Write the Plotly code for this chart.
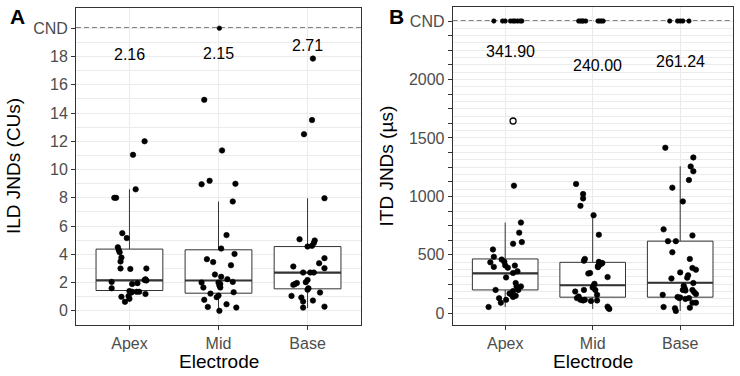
import plotly.graph_objects as go

# ---------------- data ----------------
categories = ["Apex", "Mid", "Base"]
CND_ILD = 20
CND_ITD = 2500

# ILD JNDs (CUs): values and horizontal jitter offsets
ild_apex = [11.04, 12.0, 8.6, 8.0, 8.0, 5.5, 5.15, 4.5, 4.3, 4.15, 3.77, 3.49, 3.0, 2.97, 3.0,
            2.23, 2.15, 2.18, 2.05, 1.6, 1.9, 1.96, 1.3, 1.4, 1.35, 1.35, 1.35, 1.2, 0.99, 1.05, 0.64, 0.85]
ild_apex_jit = [0.04, 0.17, 0.07, -0.17, -0.15, -0.08, -0.03, -0.13, -0.12, -0.11, -0.09, -0.10, -0.10, 0.01, 0.19,
                0.18, 0.19, 0.17, -0.20, -0.20, 0.03, 0.09, 0.02, 0.0, 0.03, 0.08, 0.11, 0.18, -0.09, -0.01, -0.05, 0.0]
ild_mid = [20, 14.93, 11.35, 8.96, 9.2, 8.99, 7.74, 5.36, 4.41, 4.03, 3.66, 3.45, 3.23, 2.57, 2.41, 2.24,
           2.05, 2.0, 1.65, 2.0, 1.9, 1.65, 1.8, 1.32, 1.22, 1.08, 0.97, 0.78, 0.47, 0.28, 0.23, 0.0]
ild_mid_jit = [0.01, -0.16, 0.04, -0.19, -0.10, 0.19, 0.16, 0.09, 0.03, 0.18, -0.13, -0.06, 0.14, -0.04, 0.03, 0.10,
               0.16, -0.19, -0.17, 0.0, 0.02, 0.02, 0.01, 0.17, -0.09, 0.0, -0.02, -0.16, 0.09, -0.12, 0.20, 0.01]
ild_base = [17.85, 13.5, 12.5, 7.97, 5.07, 4.55, 4.6, 4.8, 4.98, 3.73, 3.37, 3.02, 3.14, 2.71, 2.71, 2.71,
            2.19, 2.03, 1.9, 1.84, 1.97, 1.6, 1.5, 1.3, 1.06, 0.94, 0.66, 0.73, 0.23, 0.3]
ild_base_jit = [0.06, 0.05, -0.04, 0.19, -0.09, 0.0, 0.05, 0.07, 0.08, 0.19, 0.13, 0.19, -0.16, -0.05, 0.03, 0.07,
                0.0, -0.02, -0.14, -0.16, -0.12, 0.01, 0.0, 0.14, -0.18, -0.07, -0.05, 0.06, -0.05, 0.19]

ild_q1 = [1.44, 1.25, 1.56]
ild_median = [2.16, 2.15, 2.71]
ild_q3 = [4.37, 4.32, 4.55]
ild_lower = [0.64, 0.0, 0.2]
ild_upper = [8.6, 7.74, 7.97]
ild_label_y = [18.17, 18.19, 18.75]
ild_label_dx = [0.0, 0.0, 0.0]

# ITD JNDs (us)
itd_apex = [2500] * 9 + [1092, 776, 690, 595, 609, 546, 483, 436, 397, 460, 440, 410, 390, 408, 307, 345, 359,
                         259, 230, 230, 200, 190, 150, 170, 160, 140, 200, 129, 115, 91, 54]
itd_apex_jit = [-0.13, -0.03, 0.0, 0.06, 0.09, 0.11, 0.14, 0.17, 0.19,
                0.10, 0.18, 0.16, 0.09, 0.19, -0.14, -0.13, -0.17, -0.13, -0.04, -0.01, 0.0, 0.03, 0.11, 0.01, 0.09, 0.14,
                0.12, 0.13, 0.18, 0.15, 0.09, 0.12, 0.05, 0.07, 0.09, -0.11, -0.07, 0.01, -0.05, -0.19]
itd_mid = [2500] * 9 + [1106, 1020, 983, 919, 839, 672, 465, 450, 440, 425, 415, 405, 430, 395, 345, 340, 310,
                        252, 236, 186, 200, 220, 200, 143, 130, 158, 115, 110, 115, 110, 105, 57, 45, 37]
itd_mid_jit = [-0.16, -0.14, -0.12, -0.11, -0.08, 0.06, 0.08, 0.10, 0.12,
               -0.19, -0.11, -0.11, -0.14, 0.01, 0.07, -0.09, -0.10, 0.07, 0.10, 0.08, 0.06, 0.11, 0.06, -0.03, -0.05,
               0.17, 0.02, 0.01, -0.20, -0.10, 0.0, 0.03, -0.16, -0.18, 0.05, -0.14, -0.11, -0.09, 0.05, -0.02,
               0.17, 0.18, 0.19]
itd_base = [2500] * 5 + [1416, 1333, 1256, 1215, 1140, 1075, 957, 718, 617, 617, 666, 522, 465, 388, 373, 350,
                         325, 305, 298, 259, 235, 215, 200, 195, 200, 180, 165, 158, 140, 130, 135, 123, 130,
                         91, 91, 48, 54, 43, 20]
itd_base_jit = [-0.12, -0.03, 0.0, 0.03, 0.10,
                -0.17, 0.15, 0.12, 0.15, 0.10, -0.09, 0.03, -0.19, -0.14, -0.05, 0.14, -0.09, 0.11, 0.14, 0.18, 0.0,
                0.09, 0.08, -0.10, 0.15, 0.04, 0.05, 0.03, 0.06, 0.14, 0.16, 0.18, -0.20, -0.03, -0.01, 0.0, 0.06,
                0.10, 0.18, 0.14, 0.11, -0.19, -0.06, -0.05]
itd_outlier = [1645]
itd_outlier_jit = [0.09]

itd_q1 = [200, 138, 138]
itd_median = [341.90, 240.00, 261.24]
itd_q3 = [465, 436, 617]
itd_lower = [54, 37, 20]
itd_upper = [776, 845, 1258]
itd_label_y = [2239, 2123, 2150]
itd_label_dx = [0.06, 0.06, 0.0]

# tick labels
ild_tickvals = [0, 2, 4, 6, 8, 10, 12, 14, 16, 18, 20]
ild_ticktext = ["0", "2", "4", "6", "8", "10", "12", "14", "16", "18", "CND"]
itd_tickvals = [0, 125, 250, 375, 500, 625, 750, 875, 1000, 1125, 1250, 1375, 1500, 1625, 1750, 1875,
                2000, 2125, 2250, 2375, 2500]
itd_ticktext = ["0", "", "", "", "500", "", "", "", "1000", "", "", "", "1500", "", "", "", "2000",
                "", "", "", "CND"]

# ---------------- styling ----------------
FONT = "Liberation Sans, Arial, Helvetica, sans-serif"
DARK = "#333333"
GRID = "#EBEBEB"
TICKC = "#4D4D4D"
BOXW = 0.75

W, H = 740, 376


def fx(px):
    return px / W


def fy(py):
    return 1 - py / H


fig = go.Figure()


def add_panel(xref, yref, groups, q1, med, q3, lo, hi, cnd):
    xs = [1, 2, 3]
    fig.add_trace(go.Box(x=xs, q1=q1, median=med, q3=q3, lowerfence=lo, upperfence=hi,
                         width=BOXW, whiskerwidth=0, fillcolor="white", boxpoints=False,
                         line=dict(color=DARK, width=1), xaxis=xref, yaxis=yref,
                         showlegend=False, hoverinfo="skip"))
    mx, my = [], []
    for i, m in enumerate(med):
        mx += [xs[i] - BOXW / 2, xs[i] + BOXW / 2, None]
        my += [m, m, None]
    fig.add_trace(go.Scatter(x=mx, y=my, mode="lines", line=dict(color=DARK, width=2.2),
                             xaxis=xref, yaxis=yref, showlegend=False, hoverinfo="skip"))
    px, py, ps = [], [], []
    for i, (vals, jit) in enumerate(groups):
        for v, j in zip(vals, jit):
            px.append(xs[i] + j)
            py.append(v)
            ps.append(4.5 if v == cnd else 5.5)
    fig.add_trace(go.Scatter(x=px, y=py, mode="markers",
                             marker=dict(color="black", size=ps, opacity=1,
                                         line=dict(width=0.6, color="black")),
                             xaxis=xref, yaxis=yref, showlegend=False, hoverinfo="skip"))


add_panel("x", "y", [(ild_apex, ild_apex_jit), (ild_mid, ild_mid_jit), (ild_base, ild_base_jit)],
          ild_q1, ild_median, ild_q3, ild_lower, ild_upper, CND_ILD)
add_panel("x2", "y2", [(itd_apex, itd_apex_jit), (itd_mid, itd_mid_jit), (itd_base, itd_base_jit)],
          itd_q1, itd_median, itd_q3, itd_lower, itd_upper, CND_ITD)

fig.add_trace(go.Scatter(x=[1 + j for j in itd_outlier_jit], y=itd_outlier, mode="markers",
                         marker=dict(symbol="circle-open", color="black", size=6, line=dict(width=1.3)),
                         xaxis="x2", yaxis="y2", showlegend=False, hoverinfo="skip"))

# dashed CND lines
for xr, yr, yv in [("x domain", "y", CND_ILD), ("x2 domain", "y2", CND_ITD)]:
    fig.add_shape(type="line", xref=xr, yref=yr, x0=0, x1=1, y0=yv, y1=yv,
                  line=dict(color="black", width=1.2, dash="5px,3px"), layer="below")

# median labels
for i, m in enumerate(ild_median):
    fig.add_annotation(x=i + 1 + ild_label_dx[i], y=ild_label_y[i], xref="x", yref="y", text=f"{m:.2f}",
                       showarrow=False, font=dict(family=FONT, size=16, color="black"))
for i, m in enumerate(itd_median):
    fig.add_annotation(x=i + 1 + itd_label_dx[i], y=itd_label_y[i], xref="x2", yref="y2", text=f"{m:.2f}",
                       showarrow=False, font=dict(family=FONT, size=16, color="black"))


def minor_vals(vals):
    return [(a + b) / 2 for a, b in zip(vals[:-1], vals[1:])]


common_axis = dict(showline=True, mirror=True, linecolor=DARK, linewidth=1, ticks="outside", ticklen=4,
                   tickcolor=DARK, tickwidth=1, tickfont=dict(family=FONT, size=16, color=TICKC),
                   showgrid=True, gridcolor=GRID, gridwidth=1.1, zeroline=False, automargin=False)

fig.update_layout(
    width=W, height=H, margin=dict(l=0, r=0, t=0, b=0, autoexpand=False),
    paper_bgcolor="white", plot_bgcolor="white", showlegend=False,
    xaxis=dict(domain=[fx(76), fx(361)], range=[0.4, 3.6], tickvals=[1, 2, 3], ticktext=categories,
               anchor="y", **common_axis),
    yaxis=dict(domain=[fy(325), fy(7.7)], range=[-1.0, 21.45], tickvals=ild_tickvals,
               ticktext=ild_ticktext, anchor="x",
               minor=dict(tickvals=minor_vals(ild_tickvals), showgrid=True, gridcolor=GRID, gridwidth=0.6,
                          ticks=""),
               **common_axis),
    xaxis2=dict(domain=[fx(452.7), fx(732.7)], range=[0.4, 3.6], tickvals=[1, 2, 3], ticktext=categories,
                anchor="y2", **common_axis),
    yaxis2=dict(domain=[fy(325), fy(7.0)], range=[-100, 2620], tickvals=itd_tickvals,
                ticktext=itd_ticktext, anchor="x2",
                minor=dict(tickvals=minor_vals(itd_tickvals), showgrid=True, gridcolor=GRID, gridwidth=0.6,
                           ticks=""),
                **common_axis),
)

# axis titles and panel tags
titles = [
    dict(text="Electrode", x=218.5, y=361.7, textangle=0),
    dict(text="Electrode", x=592.7, y=361.7, textangle=0),
    dict(text="ILD JNDs (CUs)", x=14, y=166, textangle=-90),
    dict(text="ITD JNDs (µs)", x=386.5, y=166, textangle=-90),
]
for t in titles:
    fig.add_annotation(xref="paper", yref="paper", x=fx(t["x"]), y=fy(t["y"]), text=t["text"],
                       textangle=t["textangle"], showarrow=False, xanchor="center", yanchor="middle",
                       font=dict(family=FONT, size=19, color="black"))
for tag, x in [("A", 17.5), ("B", 396.7)]:
    fig.add_annotation(xref="paper", yref="paper", x=fx(x), y=fy(16.5), text=f"<b>{tag}</b>", showarrow=False,
                       xanchor="center", yanchor="middle", font=dict(family=FONT, size=21, color="black"))

# remove the page's default body margin so the 740x376 figure fills the window exactly
fig.write_html("out.html", config={"displayModeBar": False},
               post_script="document.body.style.margin='0';document.body.style.overflow='hidden';")
